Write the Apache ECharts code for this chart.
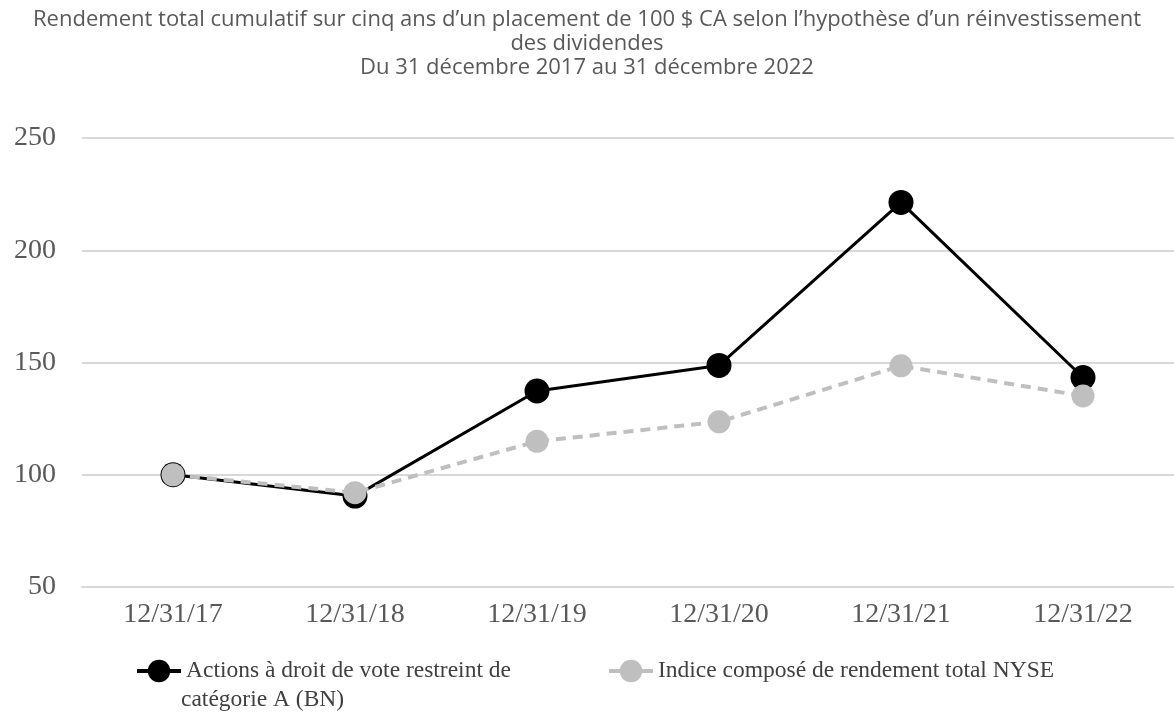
<!DOCTYPE html>
<html>
<head>
<meta charset="utf-8">
<script src="https://cdn.jsdelivr.net/npm/echarts@6/dist/echarts.min.js"></script>
<style>
  html, body { margin: 0; padding: 0; background: #fff; }
  #chart { width: 1174px; height: 724px; }
</style>
</head>
<body>
<div id="chart"></div>
<script>
var categories = ['12/31/17', '12/31/18', '12/31/19', '12/31/20', '12/31/21', '12/31/22']
var bnValues = [100, 90.5, 137.3, 148.7, 221.3, 143.3]
var nyseValues = [100, 92, 114.9, 123.6, 148.5, 135.1]
var yTicks = [50, 100, 150, 200, 250]

var bnName = 'Actions à droit de vote restreint de catégorie A (BN)'
var nyseName = 'Indice composé de rendement total NYSE'

var serif = '"Liberation Serif", "Times New Roman", serif'

var chartDom = document.getElementById('chart')
var myChart = echarts.init(chartDom)
var option = {
  backgroundColor: '#fff',
  animation: false,
  title: {
    text: 'Rendement total cumulatif sur cinq ans d’un placement de 100 $ CA selon l’hypothèse d’un réinvestissement\ndes dividendes\nDu 31 décembre 2017 au 31 décembre 2022',
    left: 'center',
    top: 3,
    textStyle: {
      fontFamily: '"Open Sans", sans-serif',
      fontWeight: 'normal',
      fontSize: 22,
      lineHeight: 24,
      color: '#595959',
    },
  },
  grid: {
    left: 82,
    right: -6,
    top: 138,
    bottom: 137,
  },
  legend: [
    {
      data: [bnName],
      left: 130,
      top: 654,
      itemWidth: 44,
      itemHeight: 28,
      lineStyle: { width: 4 },
      formatter: function () { return 'Actions à droit de vote restreint de' },
      textStyle: { fontFamily: serif, fontSize: 23.5, color: '#404040' },
    },
    {
      data: [nyseName],
      left: 602,
      top: 654,
      itemWidth: 44,
      itemHeight: 28,
      lineStyle: { width: 4, type: 'solid' },
      textStyle: { fontFamily: serif, fontSize: 23.5, color: '#404040' },
    },
  ],
  graphic: [
    {
      type: 'text',
      left: 181,
      top: 688,
      style: { text: 'catégorie A (BN)', font: '23.5px ' + serif, fill: '#404040' },
    },
  ],
  xAxis: {
    type: 'category',
    data: categories,
    boundaryGap: true,
    axisLine: { show: true, lineStyle: { color: '#d9d9d9', width: 2 } },
    axisTick: { show: false },
    axisLabel: {
      fontFamily: serif,
      fontSize: 28,
      color: '#595959',
      margin: 14,
    },
  },
  yAxis: {
    type: 'value',
    min: yTicks[0],
    max: yTicks[yTicks.length - 1],
    interval: 50,
    axisLine: { show: false },
    axisTick: { show: false },
    splitLine: { lineStyle: { color: '#d9d9d9', width: 2 } },
    axisLabel: {
      fontFamily: serif,
      fontSize: 28,
      color: '#595959',
      margin: 26,
    },
  },
  series: [
    {
      name: bnName,
      type: 'line',
      data: bnValues,
      symbol: 'circle',
      symbolSize: 25,
      lineStyle: { color: '#000', width: 3 },
      itemStyle: { color: '#000' },
      z: 2,
    },
    {
      name: nyseName,
      type: 'line',
      data: nyseValues,
      symbol: 'circle',
      symbolSize: 23,
      lineStyle: { color: '#bfbfbf', width: 4, type: [10, 7] },
      itemStyle: { color: '#bfbfbf' },
      z: 3,
    },
  ],
}

option && myChart.setOption(option)
</script>
</body>
</html>
